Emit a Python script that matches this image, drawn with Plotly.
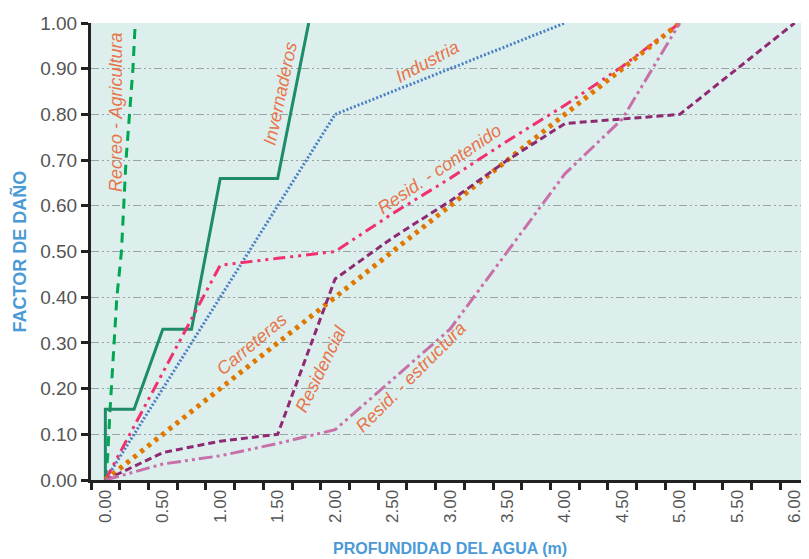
import plotly.graph_objects as go

# ---------------- data ----------------
recreo_x = [0, 0.02, 0.04, 0.07, 0.10, 0.14, 0.16, 0.18, 0.21, 0.24, 0.26]
recreo_y = [0, 0.05, 0.15, 0.27, 0.40, 0.50, 0.60, 0.70, 0.80, 0.90, 1.00]

inver_x = [0, 0, 0.25, 0.50, 0.75, 1.00, 1.50, 1.77]
inver_y = [0, 0.155, 0.155, 0.33, 0.33, 0.66, 0.66, 1.00]

indus_x = [0, 1.0, 2.0, 3.0, 4.0]
indus_y = [0, 0.40, 0.80, 0.90, 1.00]

cont_x = [0, 0.5, 1.0, 1.5, 2.0, 2.5, 3.0, 3.5, 4.0, 4.5, 5.0]
cont_y = [0, 0.235, 0.47, 0.485, 0.50, 0.583, 0.66, 0.742, 0.82, 0.905, 1.00]

carr_x = [0, 1.0, 2.0, 3.0, 4.0, 5.0]
carr_y = [0, 0.20, 0.40, 0.60, 0.80, 1.00]

resid_x = [0, 0.5, 1.0, 1.5, 2.0, 2.5, 3.0, 3.5, 4.0, 4.5, 5.0, 6.0]
resid_y = [0, 0.06, 0.085, 0.10, 0.44, 0.53, 0.61, 0.70, 0.78, 0.79, 0.80, 1.00]

estr_x = [0, 0.5, 1.0, 1.5, 2.0, 2.5, 3.0, 3.5, 4.0, 4.5, 5.0]
estr_y = [0, 0.035, 0.053, 0.08, 0.11, 0.22, 0.33, 0.50, 0.67, 0.79, 1.00]

x_ticks = [0.0, 0.5, 1.0, 1.5, 2.0, 2.5, 3.0, 3.5, 4.0, 4.5, 5.0, 5.5, 6.0]
y_ticks = [0.0, 0.1, 0.2, 0.3, 0.4, 0.5, 0.6, 0.7, 0.8, 0.9, 1.0]

labels = ["Recreo - Agricultura", "Invernaderos", "Industria", "Resid. - contenido",
          "Carreteras", "Residencial", "Resid. - estructura"]
label_x = [0.091, 1.527, 2.80, 2.91, 1.275, 1.876, 2.66]
label_y = [0.805, 0.846, 0.914, 0.68, 0.298, 0.243, 0.226]
label_angle = [-90, -78, -28, -34, -40, -64, -45]

# ---------------- figure ----------------
FONT = "Liberation Sans Narrow, Arial Narrow, Liberation Sans, Arial, sans-serif"
fig = go.Figure()

series = [
    (recreo_x, recreo_y, "#00a651", 3, "10px,7px"),
    (inver_x, inver_y, "#1e8c68", 3, "solid"),
    (indus_x, indus_y, "#4a7fc4", 3, "2px,2px"),
    (cont_x, cont_y, "#f0306f", 3, "12px,5px,3px,5px,3px,5px"),
    (carr_x, carr_y, "#e07800", 5, "4px,5px"),
    (resid_x, resid_y, "#8e2a72", 3, "7px,4px"),
    (estr_x, estr_y, "#c870a8", 3, "14px,4px,3px,4px,3px,4px"),
]
for xs, ys, col, w, dash in series:
    fig.add_trace(go.Scatter(x=xs, y=ys, mode="lines",
                             line=dict(color=col, width=w, dash=dash),
                             showlegend=False, hoverinfo="skip"))

for t, x, y, a in zip(labels, label_x, label_y, label_angle):
    fig.add_annotation(x=x, y=y, text="<i>" + t + "</i>", textangle=a,
                       showarrow=False, xanchor="center", yanchor="middle",
                       font=dict(family=FONT, size=18, color="#e8744a"))

fig.add_annotation(xref="paper", yref="paper", x=0.5, y=-0.149,
                   text="<b>PROFUNDIDAD DEL AGUA (m)</b>", showarrow=False,
                   xanchor="center", yanchor="middle",
                   font=dict(family=FONT, size=16, color="#4a9ad6"))
fig.add_annotation(xref="paper", yref="paper", x=-0.099, y=0.5,
                   text="<b>FACTOR DE DAÑO</b>", showarrow=False, textangle=-90,
                   xanchor="center", yanchor="middle",
                   font=dict(family=FONT, size=18, color="#4a9ad6"))

minor_vals = [-0.125 + 0.25 * k for k in range(26)]

fig.update_xaxes(range=[-0.125, 6.125], tickmode="array", tickvals=x_ticks,
                 ticktext=["%.2f" % v for v in x_ticks], tickangle=-90,
                 ticks="", showgrid=False, zeroline=False,
                 showline=True, linecolor="#222222", linewidth=3,
                 tickfont=dict(family=FONT, size=17, color="#555555"),
                 minor=dict(tickmode="array", tickvals=minor_vals, ticks="outside",
                            ticklen=7, tickwidth=3, tickcolor="#222222", showgrid=False))
fig.update_yaxes(range=[0, 1], tickmode="array", tickvals=y_ticks,
                 ticktext=["%.2f" % v for v in y_ticks],
                 ticks="outside", ticklen=7, tickwidth=3, tickcolor="#222222",
                 showgrid=True, gridcolor="#9aa3a3", gridwidth=1,
                 griddash="8px,3px,2px,3px,2px,3px", zeroline=False,
                 showline=True, linecolor="#222222", linewidth=3,
                 tickfont=dict(family=FONT, size=19, color="#555555"))

# page body has an 8px margin, so the figure is offset by 8px
fig.update_layout(width=801, height=551, margin=dict(l=83, r=0, t=15, b=79),
                  plot_bgcolor="#dcefed", paper_bgcolor="white")

fig.write_html("out.html")
